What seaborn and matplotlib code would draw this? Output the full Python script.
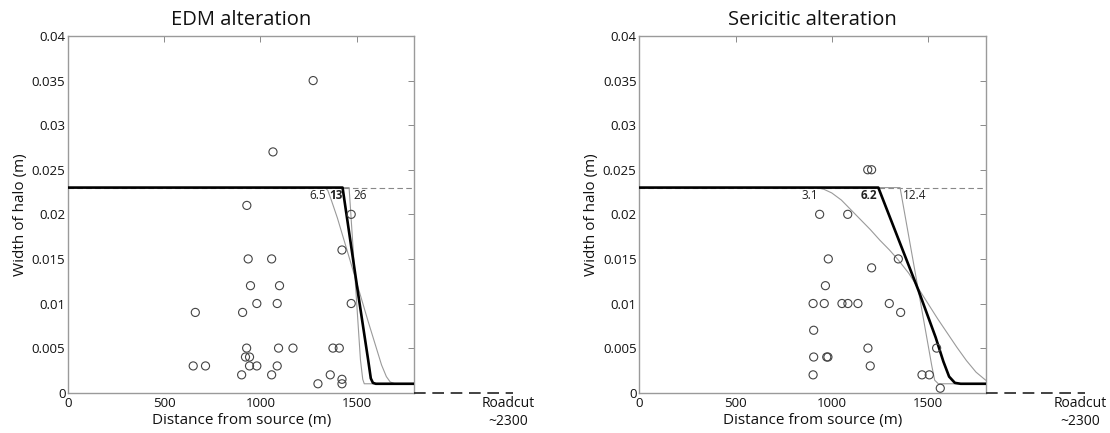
import numpy as np
import pandas as pd
import matplotlib
matplotlib.use("Agg")
import matplotlib.pyplot as plt
import seaborn as sns

# ---------------- data ----------------
titles = ["EDM alteration", "Sericitic alteration"]

# EDM observations
edm_x = [1274, 1065, 929, 1472, 1424, 936, 1058, 948, 1099, 981, 1087, 1472, 661, 907,
         928, 1094, 1169, 1377, 1410, 922, 943, 650, 714, 943, 981, 1087, 902, 1058,
         1363, 1299, 1424, 1424]
edm_y = [0.035, 0.027, 0.021, 0.020, 0.016, 0.015, 0.015, 0.012, 0.012, 0.010, 0.010,
         0.010, 0.009, 0.009, 0.005, 0.005, 0.005, 0.005, 0.005, 0.004, 0.004, 0.003,
         0.003, 0.003, 0.003, 0.003, 0.002, 0.002, 0.002, 0.001, 0.0015, 0.001]

# Sericitic observations
ser_x = [1187, 1207, 937, 1083, 982, 1346, 1207, 967, 903, 961, 1053, 1084, 1136, 1299,
         1358, 906, 1188, 1545, 906, 974, 980, 1200, 903, 1469, 1507, 1564]
ser_y = [0.025, 0.025, 0.020, 0.020, 0.015, 0.015, 0.014, 0.012, 0.010, 0.010, 0.010,
         0.010, 0.010, 0.010, 0.009, 0.007, 0.005, 0.005, 0.004, 0.004, 0.004, 0.003,
         0.002, 0.002, 0.002, 0.0005]

# EDM model curves (labels 6.5, 13 (best), 26)
edm_lo_x = [0, 1335, 1350, 1370, 1400, 1450, 1505, 1560, 1600, 1630, 1655, 1675, 1700, 1800]
edm_lo_y = [0.023, 0.023, 0.0227, 0.0215, 0.0196, 0.0160, 0.0120, 0.0080, 0.0052,
            0.0031, 0.0018, 0.0012, 0.001, 0.001]
edm_mid_x = [0, 1427, 1508, 1560, 1574, 1585, 1600, 1800]
edm_mid_y = [0.023, 0.023, 0.0111, 0.0037, 0.0016, 0.0011, 0.001, 0.001]
edm_hi_x = [0, 1461, 1520, 1532, 1540, 1800]
edm_hi_y = [0.023, 0.023, 0.0037, 0.0015, 0.001, 0.001]

# Sericitic model curves (labels 3.1, 6.2 (best), 12.4)
ser_lo_x = [0, 921, 960, 1000, 1050, 1100, 1150, 1200, 1250, 1300, 1345, 1400, 1450,
            1500, 1550, 1600, 1650, 1700, 1750, 1800]
ser_lo_y = [0.023, 0.023, 0.0228, 0.0224, 0.0216, 0.0205, 0.0194, 0.0183, 0.0171,
            0.0160, 0.0149, 0.0134, 0.0117, 0.0100, 0.0083, 0.0067, 0.0051, 0.0036,
            0.0023, 0.0014]
ser_mid_x = [0, 1242, 1450, 1540, 1580, 1610, 1640, 1670, 1800]
ser_mid_y = [0.023, 0.023, 0.0115, 0.0062, 0.0035, 0.0018, 0.0011, 0.001, 0.001]
ser_hi_x = [0, 1355, 1450, 1520, 1535, 1554, 1800]
ser_hi_y = [0.023, 0.023, 0.0115, 0.0030, 0.0014, 0.001, 0.001]

edm_labels = ["6.5", "13", "26"]
edm_label_x = [1297, 1392, 1517]
ser_labels = ["3.1", "6.2", "12.4"]
ser_label_x = [887, 1191, 1432]
label_y = 0.0221

plateau = 0.023
x_max = 1800
roadcut_x = 2290
roadcut_end = 2315
roadcut_text = "Roadcut\n~2300"

xticks = [0, 500, 1000, 1500]
yticks = [0, 0.005, 0.01, 0.015, 0.02, 0.025, 0.03, 0.035, 0.04]
ytick_labels = ["0", "0.005", "0.01", "0.015", "0.02", "0.025", "0.03", "0.035", "0.04"]

# ---------------- plotting ----------------
sns.set_theme(style="white")
plt.rcParams['font.family'] = ['Open Sans', 'DejaVu Sans']

fig = plt.figure(figsize=(11.1, 4.33), dpi=100)
axes = [fig.add_axes([0.0615, 0.0931, 0.3117, 0.8238]),
        fig.add_axes([0.5760, 0.0931, 0.3120, 0.8238])]

panels = [
    dict(px=edm_x, py=edm_y, curves=[(edm_lo_x, edm_lo_y), (edm_hi_x, edm_hi_y), (edm_mid_x, edm_mid_y)],
         labels=edm_labels, lx=edm_label_x),
    dict(px=ser_x, py=ser_y, curves=[(ser_lo_x, ser_lo_y), (ser_hi_x, ser_hi_y), (ser_mid_x, ser_mid_y)],
         labels=ser_labels, lx=ser_label_x),
]

spine_col = "#9a9a9a"
for ax, title, p in zip(axes, titles, panels):
    # plateau dashed reference
    ax.plot([0, x_max], [plateau, plateau], color="#888888", lw=0.8,
            dashes=(5, 3), zorder=1)
    # model curves
    for i, (cx, cy) in enumerate(p["curves"]):
        df = pd.DataFrame({"x": cx, "y": cy})
        best = (i == 2)
        sns.lineplot(data=df, x="x", y="y", ax=ax, sort=False, estimator=None,
                     color="black" if best else "#9a9a9a",
                     lw=1.9 if best else 0.8, zorder=3 if best else 2)
    # observations
    dfp = pd.DataFrame({"x": p["px"], "y": p["py"]})
    sns.scatterplot(data=dfp, x="x", y="y", ax=ax, marker="o", s=34,
                    facecolor="none", edgecolor="#444444", linewidth=0.8, zorder=4)
    # curve labels
    for j, (lab, lx) in enumerate(zip(p["labels"], p["lx"])):
        ax.text(lx, label_y, lab, fontsize=8.5, ha="center", va="center",
                fontweight="bold" if j == 1 else "normal", color="#222222", zorder=5)
    # dashed line out to the road cut
    ax.plot([x_max, roadcut_end], [0, 0], color="#222222", lw=1.2, dashes=(7, 4),
            clip_on=False, zorder=5)
    ax.text(roadcut_x, -0.0004, roadcut_text, ha="center", va="top", fontsize=10,
            linespacing=1.25, color="#111111")

    ax.set_xlim(0, x_max)
    ax.set_ylim(0, 0.04)
    ax.set_xticks(xticks)
    ax.set_yticks(yticks)
    ax.set_yticklabels(ytick_labels)
    ax.tick_params(direction="in", length=4, width=0.6, color="#777777",
                   top=True, right=True, labelsize=9.5, pad=2, labelcolor="#111111")
    ax.tick_params(axis="x", pad=3)
    for s in ax.spines.values():
        s.set_color(spine_col)
        s.set_linewidth(1.0)
    ax.set_title(title, fontsize=14.5, pad=8, color="#111111")
    ax.set_xlabel("Distance from source (m)", fontsize=11, labelpad=2, color="#111111")
    ax.set_ylabel("Width of halo (m)", fontsize=11, labelpad=3, color="#111111")

fig.savefig("out.png", dpi=100, facecolor="white")
